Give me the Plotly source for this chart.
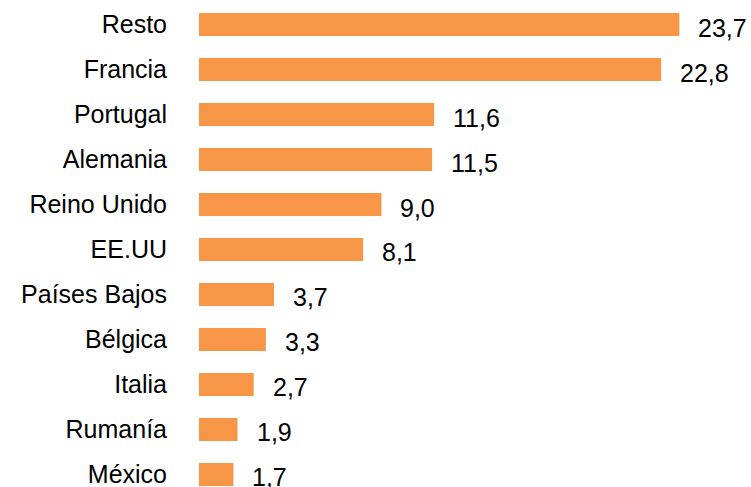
import plotly.graph_objects as go

categories = ["Resto", "Francia", "Portugal", "Alemania", "Reino Unido", "EE.UU",
              "Países Bajos", "Bélgica", "Italia", "Rumanía", "México"]
values = [23.7, 22.8, 11.6, 11.5, 9.0, 8.1, 3.7, 3.3, 2.7, 1.9, 1.7]

BAR_COLOR = "#F79646"
FONT = "Liberation Sans, Arial, sans-serif"
FSIZE = 25

fig = go.Figure(go.Bar(
    x=values, y=categories, orientation="h",
    marker=dict(color=BAR_COLOR, line=dict(width=0)),
    width=0.51,
))

for c, v in zip(categories, values):
    fig.add_annotation(
        x=v, y=c, text=f"{v:.1f}".replace(".", ","), showarrow=False,
        xanchor="left", yanchor="middle", xshift=17, yshift=-3,
        font=dict(family=FONT, size=FSIZE, color="#000000"),
    )

fig.update_layout(
    width=751, height=487,
    margin=dict(l=199, r=25, t=2, b=0),
    paper_bgcolor="white", plot_bgcolor="white",
    showlegend=False,
    font=dict(family=FONT, size=FSIZE, color="#000000"),
    xaxis=dict(range=[0, 26], visible=False, showgrid=False, zeroline=False),
    yaxis=dict(
        type="category", categoryorder="array", categoryarray=categories,
        range=[10.278, -0.5], showgrid=False, zeroline=False, showline=False,
        ticks="", ticklabelstandoff=31, automargin=False,
        tickfont=dict(family=FONT, size=FSIZE, color="#000000"),
    ),
)

fig.write_html(
    "out.html",
    config={"displayModeBar": False},
    post_script="document.body.style.margin='0';document.body.style.padding='0';",
)
